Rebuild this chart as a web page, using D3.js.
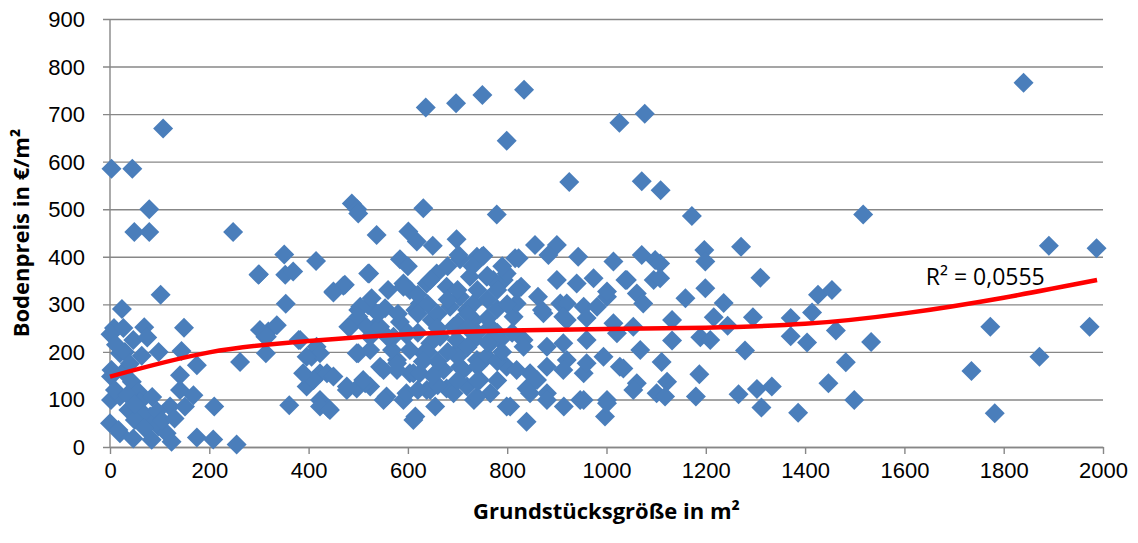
<!DOCTYPE html>
<head>
  <meta charset="utf-8">
  <script src="https://d3js.org/d3.v7.min.js"></script>
</head>
<body>
  <div id="chart"></div>

  <script>
    var width = 1138;
    var height = 543;

    // plot sizes (m²) and land prices (€/m²)
    var lots = [
      [3,585],[45,585],[107,670],[79,500],[49,452],[79,452],[248,452],
      [351,405],[300,363],[353,362],[369,369],[354,301],[102,320],[24,290],
      [8,250],[1,237],[27,250],[69,252],[149,251],[47,225],[75,230],[20,197],[64,192],[98,200],[144,202],
      [175,172],[262,179],[319,243],[336,256],[313,232],[314,197],[3,162],[2,148],[27,158],[44,137],[141,151],
      [2,99],[20,106],[57,116],[60,95],[141,120],[168,109],[121,85],[151,85],[210,85],[361,88],[0,50],[20,29],
      [47,18],[84,15],[81,64],[97,43],[114,29],[124,11],[175,20],[208,16],[255,5],[37,78],[67,71],[50,57],[17,36],
      [380,225],[10,120],[35,110],[50,90],[30,200],[12,215],[40,175],[85,105],[95,75],[70,40],[105,55],[130,60],
      [415,391],[450,327],[473,341],[520,365],[477,120],[423,155],[406,190],[416,211],[396,127],[423,99],[440,81],
      [497,123],[524,127],[497,197],[524,204],[480,253],[500,288],[520,298],[302,246],[316,232],[299,362],
      [487,512],[498,500],[500,491],[631,502],[537,446],[601,453],[618,432],[650,423],[698,437],[584,395],[522,365],
      [705,395],[739,400],[470,339],[450,325],[591,344],[604,330],[658,365],[504,295],[527,313],[554,292],[484,253],
      [500,274],[534,253],[584,263],[615,288],[638,344],[678,337],[705,316],[719,288],[733,267],[423,197],[396,190],
      [437,155],[500,197],[524,232],[568,204],[544,169],[578,183],[604,155],[631,197],[665,232],[698,200],[733,225],
      [597,236],[477,127],[514,134],[557,106],[423,85],[615,64],[655,85],[678,123],[719,127],[733,99],[638,120],
      [591,99],[611,155],[672,162],[705,169],[648,267],[692,253],[571,232],[739,183],[383,225],[410,141],[389,155],
      [636,714],[697,723],[750,740],[834,751],[799,644],[779,489],[925,557],[1026,682],[1077,701],[1071,559],
      [1109,540],[1172,486],[1517,489],[1840,766],[1197,414],[1271,421],[1891,423],[1987,418],
      [856,425],[900,425],[883,404],[943,400],[1014,390],[1071,404],[1098,393],[752,402],[816,397],[900,351],
      [940,344],[974,355],[1041,351],[1095,351],[759,358],[793,351],[828,337],[862,316],[907,302],[954,295],
      [1001,316],[1061,323],[1074,302],[813,274],[873,281],[920,267],[1014,260],[1054,253],[766,253],[786,225],
      [833,225],[880,211],[960,225],[1021,239],[994,190],[1068,204],[1027,169],[1061,134],[759,190],[799,169],
      [846,155],[880,169],[920,183],[954,155],[766,113],[806,85],[839,123],[880,113],[914,85],[947,99],[1001,99],
      [997,64],[839,53],[1101,113],[745,141],
      [702,404],[749,400],[823,397],[799,365],[772,351],[725,358],[1038,351],[1001,327],[920,302],[591,337],
      [645,351],[624,302],[685,295],[732,302],[819,302],[913,274],[960,271],[981,295],[870,288],[517,253],
      [544,253],[578,176],[604,204],[645,218],[698,225],[766,218],[833,211],[913,218],[1034,165],[450,148],
      [510,141],[551,162],[578,162],[624,155],[712,162],[752,183],[819,162],[860,141],[913,162],[960,176],
      [1054,120],[551,99],[597,113],[645,120],[692,113],[739,106],[799,85],[846,113],[880,99],[954,99],[1001,92],
      [611,57],[443,78],
      [1199,390],[1310,356],[1159,313],[1199,334],[1236,303],[1216,273],[1244,255],[1295,273],[1189,231],
      [1209,225],[1279,203],[1371,271],[1371,233],[1404,220],[1414,283],[1426,320],[1454,330],[1462,245],
      [1533,221],[1482,178],[1447,134],[1499,99],[1386,72],[1312,83],[1303,122],[1333,127],[1266,111],[1187,153],
      [1180,106],[1773,253],[1735,160],[1782,71],[1872,190],[1973,253],[1108,386],[1108,355],[1132,267],
      [1132,224],[1111,179],[1122,137],[1118,106],
      [620,320],[640,300],[660,280],[680,310],[700,330],[720,280],[740,330],[760,310],[780,290],[760,270],
      [700,260],[660,250],[620,240],[740,240],[780,240],[800,300],[820,330],[640,200],[660,180],[700,190],
      [740,170],[780,180],[780,140],[740,140],[700,140],[660,130],[620,120],[760,220],[720,210],[680,200],
      [650,150],[630,180],[600,240],[580,280],[560,230],[620,280],[720,250],[790,200],[810,240],[760,360],
      [780,330],[790,380],[730,380],[680,380],[600,380],[560,330],[540,280]
    ];

    // trend line (3rd order polynomial in the original)
    var trend = [[0,148],[200,199],[400,223],[600,237],[800,245],[1000,248],[1200,251],
                 [1400,259],[1600,281],[1800,314],[1988,351]];
    var rSquared = "R² = 0,0555";

    var xTicks = [0,200,400,600,800,1000,1200,1400,1600,1800,2000];
    var yTicks = [0,100,200,300,400,500,600,700,800,900];

    var margin = {top: 19, right: 35, bottom: 96, left: 110};

    var svg = d3.select('#chart')
      .append('svg')
        .attr('width', width)
        .attr('height', height)
        .style('font-family', "'Open Sans', sans-serif");

    var x = d3.scaleLinear().domain([0, 2000]).range([margin.left, width - margin.right]);
    var y = d3.scaleLinear().domain([0, 900]).range([height - margin.bottom, margin.top]);

    // horizontal gridlines + y axis
    var yAxis = d3.axisLeft(y).tickValues(yTicks).tickFormat(d3.format('d'))
      .tickSize(-(width - margin.left - margin.right)).tickSizeOuter(0).tickPadding(25);
    var gy = svg.append('g')
      .attr('transform', 'translate(' + margin.left + ',0)')
      .call(yAxis);
    gy.select('.domain').remove();
    gy.selectAll('.tick line')
      .attr('x1', -7)
      .attr('stroke', '#878787').attr('stroke-width', 1.4);
    gy.selectAll('.tick text')
      .attr('font-size', 22).attr('fill', '#000').attr('dy', '0.34em');
    svg.append('line')
      .attr('x1', margin.left).attr('x2', margin.left)
      .attr('y1', y(900)).attr('y2', y(0))
      .attr('stroke', '#878787').attr('stroke-width', 1.4);

    // x axis
    var gx = svg.append('g')
      .attr('transform', 'translate(0,' + y(0) + ')')
      .call(d3.axisBottom(x).tickValues(xTicks).tickFormat(d3.format('d'))
        .tickSize(7).tickSizeOuter(0).tickPadding(8));
    gx.select('.domain').attr('stroke', '#878787').attr('stroke-width', 1.4);
    gx.selectAll('.tick line').attr('stroke', '#878787').attr('stroke-width', 1.4);
    gx.selectAll('.tick text').attr('font-size', 22).attr('fill', '#000');

    // diamonds
    var diamond = 'M0,-10L10,0L0,10L-10,0Z';
    svg.append('g')
      .selectAll('path')
      .data(lots)
      .join('path')
        .attr('d', diamond)
        .attr('transform', d => 'translate(' + x(d[0]) + ',' + y(d[1]) + ')')
        .attr('fill', '#4a7ebb');

    // trend line
    var line = d3.line()
      .x(d => x(d[0]))
      .y(d => y(d[1]))
      .curve(d3.curveNatural);
    svg.append('path')
      .datum(trend)
      .attr('d', line)
      .attr('fill', 'none')
      .attr('stroke', '#ff0000')
      .attr('stroke-width', 4.5);

    svg.append('text')
      .attr('x', x(1643)).attr('y', y(340))
      .attr('font-size', 23)
      .text(rSquared);

    // axis titles
    svg.append('text')
      .attr('x', (margin.left + width - margin.right) / 2)
      .attr('y', 519)
      .attr('text-anchor', 'middle')
      .attr('font-size', 22).attr('font-weight', 'bold')
      .text('Grundstücksgröße in m²');

    svg.append('text')
      .attr('transform', 'translate(29,' + 233 + ') rotate(-90)')
      .attr('text-anchor', 'middle')
      .attr('font-size', 22).attr('font-weight', 'bold')
      .text('Bodenpreis in €/m²');
  </script>
</body>

<style>
  body { margin: 0; background: #fff; }
</style>
